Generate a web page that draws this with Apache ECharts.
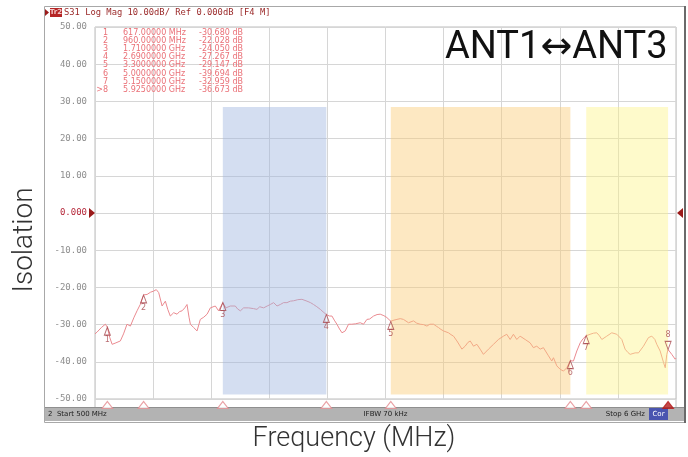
<!DOCTYPE html>
<html><head><meta charset="utf-8">
<script src="https://cdn.jsdelivr.net/npm/echarts@6/dist/echarts.min.js"></script>
<style>html,body{margin:0;padding:0;background:#fff}#c{width:688px;height:457px}</style>
</head><body><div id="c"></div>
<script>
// ---- data ----
const freqMHz = [500,520,560,598,617,640,662,690,740,770,803,835,870,898,930,960,993,1025,1055,1080,1103,1135,1150,1166,1190,1213,1245,1277,1300,1324,1350,1371,1390,1403,1434,1466,1497,1530,1561,1592,1639,1670,1710,1740,1781,1828,1850,1876,1907,1954,2000,2033,2060,2096,2130,2159,2191,2223,2254,2285,2317,2349,2380,2420,2459,2507,2540,2569,2600,2633,2660,2690,2720,2743,2765,2790,2815,2838,2869,2900,2930,2964,3011,3042,3074,3100,3137,3170,3200,3235,3263,3300,3330,3358,3390,3420,3468,3515,3545,3578,3610,3642,3670,3705,3730,3752,3775,3799,3846,3870,3894,3926,3950,3973,4004,4030,4052,4083,4115,4146,4177,4225,4272,4319,4367,4398,4430,4461,4493,4524,4572,4619,4650,4682,4714,4745,4793,4824,4840,4872,4903,4935,4966,5000,5029,5061,5093,5120,5150,5187,5220,5250,5275,5298,5345,5392,5440,5487,5518,5545,5566,5613,5645,5692,5739,5771,5800,5818,5850,5882,5898,5913,5925,5960,5992,6000];
const s31dB = [-32.5,-32.0,-30.8,-29.9,-30.7,-33.5,-35.3,-35.0,-34.4,-32.5,-29.9,-30.4,-28.0,-26.3,-24.5,-22.0,-21.9,-21.3,-21.0,-20.6,-21.4,-25.0,-24.5,-23.7,-26.0,-27.7,-26.8,-27.2,-26.5,-26.3,-25.5,-24.6,-28.0,-29.9,-30.8,-31.7,-28.6,-28.0,-27.2,-25.5,-25.0,-26.3,-24.1,-25.5,-25.0,-25.0,-25.8,-26.3,-25.5,-25.5,-25.7,-25.9,-25.2,-25.5,-25.0,-24.6,-24.1,-25.0,-24.6,-24.1,-24.1,-23.7,-23.6,-23.3,-23.2,-23.7,-24.1,-24.6,-25.2,-25.9,-26.6,-27.3,-27.7,-27.7,-28.8,-29.9,-31.2,-32.2,-31.7,-29.9,-29.9,-29.8,-29.5,-29.9,-28.6,-28.5,-27.7,-27.3,-27.2,-27.6,-28.1,-29.1,-28.8,-28.6,-28.4,-28.6,-29.5,-29.0,-29.6,-29.9,-30.0,-30.4,-29.9,-29.9,-30.4,-30.8,-31.3,-31.7,-32.2,-32.7,-33.1,-34.4,-35.5,-36.6,-35.8,-34.8,-34.4,-35.8,-35.3,-36.6,-38.0,-36.6,-35.3,-34.0,-33.1,-32.6,-34.0,-32.6,-34.0,-33.1,-34.0,-34.9,-36.2,-35.8,-36.6,-36.2,-38.4,-39.8,-38.9,-41.1,-42.0,-42.5,-41.6,-39.7,-39.8,-37.1,-34.9,-33.8,-33.0,-32.6,-32.3,-32.2,-33.0,-34.0,-33.1,-32.2,-32.6,-34.0,-36.6,-37.5,-38.0,-37.6,-37.6,-35.8,-33.5,-33.1,-34.0,-35.3,-37.1,-40.2,-41.6,-38.0,-36.7,-38.0,-39.3,-39.0];
const markerIds = ['1','2','3','4','5','6','7','8'];
const markerFreqMHz = [617,960,1710,2690,3300,5000,5150,5925];
const markerDb = [-30.680,-22.028,-24.050,-27.267,-29.147,-39.694,-32.959,-36.673];
const markerFreqText = ['617.00000 MHz','960.00000 MHz','1.7100000 GHz','2.6900000 GHz','3.3000000 GHz','5.0000000 GHz','5.1500000 GHz','5.9250000 GHz'];
const markerDbText = ['-30.680 dB','-22.028 dB','-24.050 dB','-27.267 dB','-29.147 dB','-39.694 dB','-32.959 dB','-36.673 dB'];
const activeMarker = '8';
const bandStartMHz = [1710,3300,5150];
const bandEndMHz = [2690,5000,5925];
const bandTopDb = 28.5;
const bandBottomDb = -48.8;
const xMin = 500, xMax = 6000, xStep = 550;
const yMin = -50, yMax = 50, yStep = 10;
const titleText = 'ANT1\u2194ANT3';
const yName = 'Isolation';
const xName = 'Frequency (MHz)';
const headerText = 'S31 Log Mag 10.00dB/ Ref 0.000dB [F4 M]';

// ---- chart ----
const bandColors = ['rgba(160,182,225,0.45)','rgba(250,205,120,0.45)','rgba(252,242,130,0.42)'];
const chart = echarts.init(document.getElementById('c'), null, {renderer:'canvas'});
const trace = freqMHz.map((f,i)=>[f, s31dB[i]]);
const markers = markerFreqMHz.map((f,i)=>{
  const act = markerIds[i]===activeMarker;
  return {
    value:[f, markerDb[i]],
    symbolRotate: act ? 180 : 0,
    symbolOffset: act ? [0,-4] : [0,4],
    label:{show:true, formatter:markerIds[i], position: act ? 'top' : 'bottom', distance: act ? 2 : 0}
  };
});
const stimulus = markerFreqMHz.map((f,i)=>({
  value:[f, yMin],
  itemStyle: markerIds[i]===activeMarker ? {color:'#b51b1b', borderColor:'#b51b1b'} : {color:'#fff', borderColor:'#e48a8e'}
}));
const mono = '"DejaVu Sans Mono", monospace';
const tableG = [];
markerIds.forEach((id,i)=>{
  const y = 33 + i*8.1;
  const base = {fontFamily:'"DejaVu Sans"', fontSize:8, fill:'#ea7077', verticalAlign:'middle'};
  tableG.push({type:'text', x:108, y:y, style:Object.assign({text:(id===activeMarker?'>':'')+id, align:'right'}, base), z:50});
  tableG.push({type:'text', x:123, y:y, style:Object.assign({text:markerFreqText[i], align:'left'}, base), z:50});
  tableG.push({type:'text', x:199, y:y, style:Object.assign({text:markerDbText[i], align:'left'}, base), z:50});
});

const option = {
  animation:false,
  grid:{left:95, right:12, top:27, bottom:58, show:true, borderColor:'#bcbcbc', borderWidth:1},
  xAxis:{type:'value', min:xMin, max:xMax, interval:xStep,
    axisLabel:{show:false}, axisTick:{show:false}, axisLine:{show:false},
    splitLine:{show:true, lineStyle:{color:'#d6d6d6', width:1}}},
  yAxis:{type:'value', min:yMin, max:yMax, interval:yStep,
    axisTick:{show:false}, axisLine:{show:false},
    splitLine:{show:true, lineStyle:{color:'#d6d6d6', width:1}},
    axisLabel:{margin:8, fontFamily:mono, fontSize:9,
      color:(v)=> Number(v)===0 ? '#b5283a' : '#8e8e8e',
      formatter:(v)=> v===0 ? '0.000' : v.toFixed(2)}},
  series:[
    {type:'line', data:trace, z:2, symbol:'none', lineStyle:{color:'#ea8a90', width:1}, silent:true},
    {type:'line', data:[], z:3, silent:true,
      markArea:{silent:true, z:3, data: bandStartMHz.map((s,i)=>[
        {xAxis:s, yAxis:bandTopDb, itemStyle:{color:bandColors[i]}},
        {xAxis:bandEndMHz[i], yAxis:bandBottomDb}])}},
    {type:'scatter', data:markers, z:4, symbol:'triangle', symbolSize:[6,8], silent:true,
      itemStyle:{color:'rgba(0,0,0,0)', borderColor:'#a8474d', borderWidth:1},
      label:{color:'#a8474d', fontSize:8, fontFamily:'"DejaVu Sans"'}},
    {type:'scatter', data:stimulus, z:4, symbol:'triangle', symbolSize:[11,7], symbolOffset:[0,6], clip:false, silent:true,
      itemStyle:{borderWidth:1}}
  ],
  graphic:[]
};
chart.setOption(option);

const y0 = chart.convertToPixel({yAxisIndex:0}, 0);
const yBot = chart.convertToPixel({yAxisIndex:0}, yMin);
const xL = chart.convertToPixel({xAxisIndex:0}, xMin);
const xR = chart.convertToPixel({xAxisIndex:0}, xMax);

const g = [
  {type:'rect', shape:{x:44.5, y:6.5, width:641, height:416}, style:{fill:'none', stroke:'#a8a8a8', lineWidth:1}, z:-1},
  {type:'line', shape:{x1:685, y1:6, x2:685, y2:423}, style:{stroke:'#6a6a6a', lineWidth:2}, z:1},
  {type:'line', shape:{x1:xL, y1:yBot, x2:xL, y2:407}, style:{stroke:'#bcbcbc', lineWidth:1}},
  {type:'line', shape:{x1:xR, y1:yBot, x2:xR, y2:407}, style:{stroke:'#bcbcbc', lineWidth:1}},
  {type:'polygon', shape:{points:[[45,9],[45,16],[49,12.5]]}, style:{fill:'#9b1b1b'}},
  {type:'rect', shape:{x:50, y:8, width:12, height:9}, style:{fill:'#b52525'}},
  {type:'text', x:56, y:12.5, style:{text:'Tr2', fontFamily:'"DejaVu Sans"', fontSize:7, fontWeight:'bold', fill:'#f3c9c9', align:'center', verticalAlign:'middle'}},
  {type:'text', x:64, y:13, style:{text:headerText, fontFamily:mono, fontSize:8.8, fill:'#9b2a2a', verticalAlign:'middle'}},
  {type:'polygon', shape:{points:[[xL-6,y0-5],[xL-6,y0+5],[xL,y0]]}, style:{fill:'#9b1b1b'}},
  {type:'polygon', shape:{points:[[xR+7,y0-5],[xR+7,y0+5],[xR+1,y0]]}, style:{fill:'#9b1b1b'}},
  {type:'rect', shape:{x:45, y:407, width:640, height:14}, style:{fill:'#b3b3b3'}},
  {type:'line', shape:{x1:45, y1:407.5, x2:685, y2:407.5}, style:{stroke:'#8f8f8f', lineWidth:1}},
  {type:'text', x:48, y:414.5, style:{text:'2  Start 500 MHz', fontFamily:'"DejaVu Sans"', fontSize:7, fill:'#222', verticalAlign:'middle'}},
  {type:'text', x:(xL+xR)/2, y:414.5, style:{text:'IFBW 70 kHz', fontFamily:'"DejaVu Sans"', fontSize:7, fill:'#222', align:'center', verticalAlign:'middle'}},
  {type:'text', x:645, y:414.5, style:{text:'Stop 6 GHz', fontFamily:'"DejaVu Sans"', fontSize:7, fill:'#222', align:'right', verticalAlign:'middle'}},
  {type:'rect', shape:{x:649, y:408, width:19, height:12}, style:{fill:'#4a55b0'}},
  {type:'text', x:658.5, y:414.5, style:{text:'Cor', fontFamily:'"DejaVu Sans"', fontSize:7, fill:'#fff', align:'center', verticalAlign:'middle'}},
  {type:'text', x:445, y:48, z:60, style:{text:titleText, fontFamily:'Roboto, "DejaVu Sans"', fontSize:38, fill:'#111', verticalAlign:'middle'}},
  {type:'text', x:25, y:240, rotation:Math.PI/2, z:60, style:{text:yName, fontFamily:'Roboto', fontWeight:300, fontSize:28, fill:'#333', align:'center', verticalAlign:'middle'}},
  {type:'text', x:354, y:439, z:60, style:{text:xName, fontFamily:'Roboto', fontWeight:300, fontSize:27, fill:'#333', align:'center', verticalAlign:'middle'}}
].concat(tableG);
chart.setOption({graphic:g});
</script>
</body></html>
